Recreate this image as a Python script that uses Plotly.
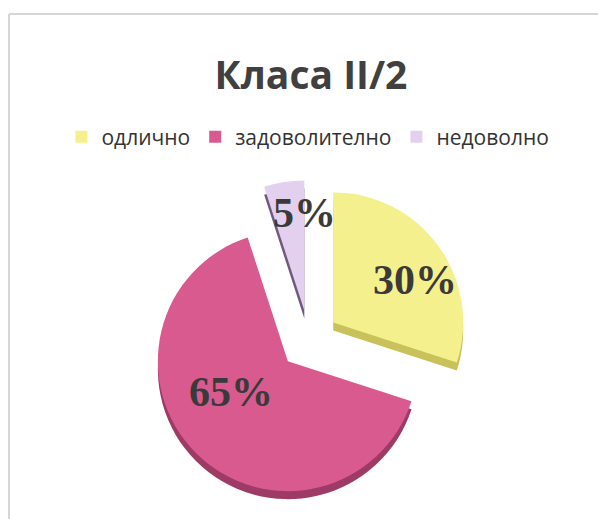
import math
import plotly.graph_objects as go

# Grade distribution for class II/2
categories = ["одлично", "задоволително", "недоволно"]
shares = [30, 65, 5]
face_colors = ["#F5F08E", "#D95A8F", "#E2D0EE"]
side_colors = ["#C9C25A", "#9E3A66", "#6E5A7E"]

W, H = 598, 519
CX, CY = 309, 340          # pie centre in pixels
R = 130                    # pie radius in pixels
PULL = 0.23                # exploded distance as a fraction of the radius
DEPTH = 8                  # thickness of the tilted side face


def px(x):
    return x / W


def py(y):
    return 1 - y / H


half = R * (1 + PULL)
dom_x = [px(CX - half), px(CX + half)]
dom_y = [py(CY + half), py(CY - half)]
dom_y_side = [py(CY + half + DEPTH), py(CY - half + DEPTH)]

fig = go.Figure()

# darker copy shifted down: the visible side of the slices
fig.add_trace(go.Pie(
    labels=categories, values=shares, sort=False, direction="clockwise",
    rotation=0, pull=[PULL] * len(shares), textinfo="none",
    marker=dict(colors=side_colors, line=dict(width=0)),
    domain=dict(x=dom_x, y=dom_y_side), showlegend=False, hoverinfo="skip",
))

fig.add_trace(go.Pie(
    labels=categories, values=shares, sort=False, direction="clockwise",
    rotation=0, pull=[PULL] * len(shares), textinfo="none",
    marker=dict(colors=face_colors, line=dict(width=0)),
    domain=dict(x=dom_x, y=dom_y), showlegend=True,
))

# percentage labels: distance from the centre (in radii) and a small
# angular nudge from each slice's mid-angle
label_dist = [0.94, 0.72, 0.98]
label_turn = [6.5, 11.0, 7.0]
total = sum(shares)
cum = 0
annotations = []
for v, d, t in zip(shares, label_dist, label_turn):
    theta = math.radians(360 * (cum + v / 2) / total + t)
    cum += v
    sx = CX + d * R * math.sin(theta)
    sy = CY - d * R * math.cos(theta)
    annotations.append(dict(
        x=px(sx), y=py(sy), xref="paper", yref="paper", showarrow=False,
        text=f"<b>{round(100 * v / total)}%</b>",
        font=dict(family="Liberation Serif", size=42, color="#3A3A3A"),
        xanchor="center", yanchor="middle",
    ))

fig.update_layout(
    width=W, height=H,
    margin=dict(l=0, r=0, t=0, b=0),
    paper_bgcolor="white", plot_bgcolor="white",
    title=dict(
        text="<b>Класа II/2</b>", x=0.52, xanchor="center",
        y=py(75), yanchor="middle",
        font=dict(family="Open Sans", size=39, color="#404040"),
    ),
    legend=dict(
        orientation="h", x=0.515, xanchor="center", y=py(137), yanchor="middle",
        font=dict(family="Open Sans", size=21, color="#333333"),
        itemclick=False, traceorder="normal",
    ),
    annotations=annotations,
    shapes=[
        dict(type="line", xref="paper", yref="paper",
             x0=px(9), x1=1, y0=py(14), y1=py(14),
             line=dict(color="#D6D6D6", width=2)),
        dict(type="line", xref="paper", yref="paper",
             x0=px(9), x1=px(9), y0=py(14), y1=0,
             line=dict(color="#D6D6D6", width=2)),
    ],
)

fig.write_html("out.html")
